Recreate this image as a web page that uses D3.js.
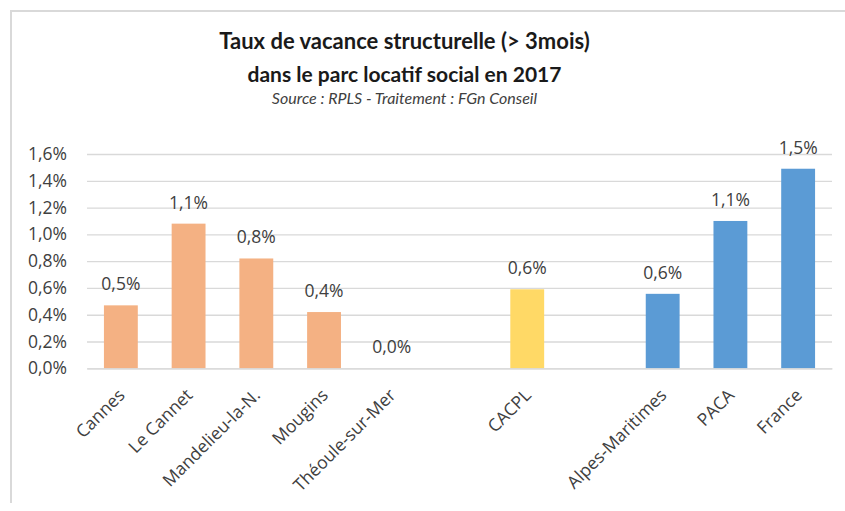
<!DOCTYPE html>
<html><head><meta charset="utf-8">
<script src="https://cdn.jsdelivr.net/npm/d3@7"></script>
<style>
body{margin:0;background:#fff}
svg text{font-family:"Open Sans","Noto Sans",sans-serif}
svg text.title{font-family:Lato,"Open Sans",sans-serif}
</style>
</head><body>
<svg id="chart" width="845" height="511"></svg>
<script>
// Slots along the x axis; empty names leave a gap between groups
const categories = ["Cannes","Le Cannet","Mandelieu-la-N.","Mougins","Théoule-sur-Mer","","CACPL","","Alpes-Maritimes","PACA","France"];
// Structural vacancy rate (%), null where the slot is a gap
const values = [0.47, 1.08, 0.82, 0.42, 0.0, null, 0.59, null, 0.556, 1.10, 1.49];
// Territory level of each slot
const levels = ["commune","commune","commune","commune","commune",null,"epci",null,"ref","ref","ref"];
const yTicks = [0, 0.2, 0.4, 0.6, 0.8, 1.0, 1.2, 1.4, 1.6];
const titleLines = ["Taux de vacance structurelle (> 3mois)", "dans le parc locatif social en 2017"];
const subtitle = "Source : RPLS - Traitement : FGn Conseil";

const colors = {commune:"#F4B183", epci:"#FFD966", ref:"#5B9BD5"};
const pct = v => d3.format(".1f")(v).replace(".", ",") + "%";

const svg = d3.select("#chart");
const plotLeft = 87, plotRight = 832, plotTop = 154, plotBottom = 368.3;
const labelSize = 17.5;

// chart frame
svg.append("path")
  .attr("d", `M11,503 V11 H845`)
  .attr("fill", "none").attr("stroke", "#d9d9d9").attr("stroke-width", 2);

// titles
const cx = 404.5;
svg.append("text").attr("class", "title").attr("x", cx).attr("y", 49).attr("text-anchor","middle")
  .attr("font-size", 22).attr("font-weight", "bold").attr("fill", "#1a1a1a").text(titleLines[0]);
svg.append("text").attr("class", "title").attr("x", cx).attr("y", 82).attr("text-anchor","middle")
  .attr("font-size", 21).attr("font-weight", "bold").attr("fill", "#1a1a1a").text(titleLines[1]);
svg.append("text").attr("class", "title").attr("x", cx).attr("y", 104).attr("text-anchor","middle")
  .attr("font-size", 16).attr("font-style", "italic").attr("fill", "#404040").text(subtitle);

const x = d3.scaleBand().domain(d3.range(categories.length)).range([plotLeft, plotRight])
  .paddingInner(0.5).paddingOuter(0.25);
const y = d3.scaleLinear().domain([0, 1.6]).range([plotBottom, plotTop]);

// y axis with gridlines
const yAxis = svg.append("g").attr("transform", `translate(${plotLeft},0)`)
  .call(d3.axisLeft(y).tickValues(yTicks).tickFormat(pct).tickSize(-(plotRight - plotLeft)).tickPadding(20));
yAxis.select(".domain").remove();
yAxis.selectAll(".tick line").attr("stroke", "#d9d9d9").attr("stroke-width", 1.3);
yAxis.selectAll(".tick text").attr("font-size", labelSize).attr("fill", "#404040");

// bars
const data = categories.map((c, i) => ({i, c, v: values[i], level: levels[i]})).filter(d => d.v !== null);
svg.append("g").selectAll("rect").data(data).join("rect")
  .attr("x", d => x(d.i)).attr("width", x.bandwidth())
  .attr("y", d => y(d.v)).attr("height", d => y(0) - y(d.v))
  .attr("fill", d => colors[d.level]);

// value labels
svg.append("g").selectAll("text").data(data).join("text")
  .attr("x", d => x(d.i) + x.bandwidth() / 2).attr("y", d => y(d.v) - 15)
  .attr("text-anchor", "middle").attr("font-size", labelSize).attr("fill", "#404040")
  .text(d => pct(d.v));

// x axis
const xAxis = svg.append("g").attr("transform", `translate(0,${plotBottom})`)
  .call(d3.axisBottom(x).tickFormat(i => categories[i]).tickSize(0));
xAxis.select(".domain").attr("stroke", "#d9d9d9").attr("stroke-width", 1.3);
xAxis.selectAll(".tick text")
  .attr("x", 0).attr("y", 0).attr("dy", 0)
  .attr("text-anchor", "end").attr("font-size", labelSize).attr("fill", "#404040")
  .attr("transform", "translate(5,28) rotate(-45)");
</script>
</body></html>
